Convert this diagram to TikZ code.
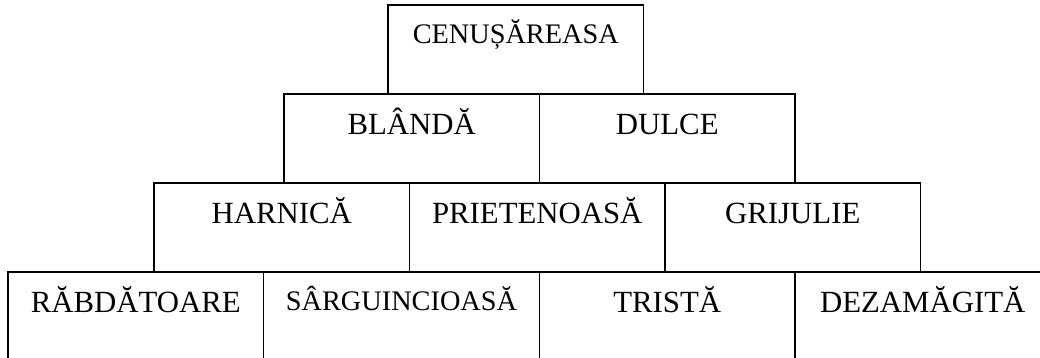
\documentclass[tikz,border=0pt]{standalone}
\usepackage{fontspec}
\setmainfont{Liberation Serif}
\usetikzlibrary{positioning}
\tikzset{
   traitbox/.style={
     draw=black, line width=1.5pt, outer sep=0pt, inner sep=0pt,
     minimum width=255.5pt, text height=40.5pt, text depth=48.5pt,
     font=\fontsize{30.8}{36}\selectfont
   },
   smalltrait/.style={
      traitbox,
      text height=38pt, text depth=51pt,
      font=\fontsize{28.3}{34}\selectfont
   },
   widetrait/.style={
      smalltrait,
      minimum width=276pt
   }
}
\begin{document}
\begin{tikzpicture}[x=1pt, y=1pt, node distance=0pt]
      \useasboundingbox (0,0) rectangle (1040,-357);

      \node[smalltrait, anchor=north west](cenusa) at (388,-5) {CENUȘĂREASA};

      \node[traitbox, anchor=north west](blanda) at (284,-94) {BLÂNDĂ};
      \node[traitbox](dulce) [right = of blanda] {DULCE};

      \node[traitbox, anchor=north west](harnica) at (154,-183) {HARNICĂ};
      \node[traitbox](prieten) [right = of harnica] {PRIETENOASĂ};
      \node[traitbox](grijulie) [right = of prieten] {GRIJULIE};

      \node[traitbox, anchor=north west](rabdat) at (8,-272) {RĂBDĂTOARE};
      \node[widetrait](sarguin) [right = of rabdat] {SÂRGUINCIOASĂ};
      \node[traitbox](trista) [right = of sarguin] {TRISTĂ};
      \node[traitbox](dezam) [right = of trista] {DEZAMĂGITĂ};
   \end{tikzpicture}
\end{document}
